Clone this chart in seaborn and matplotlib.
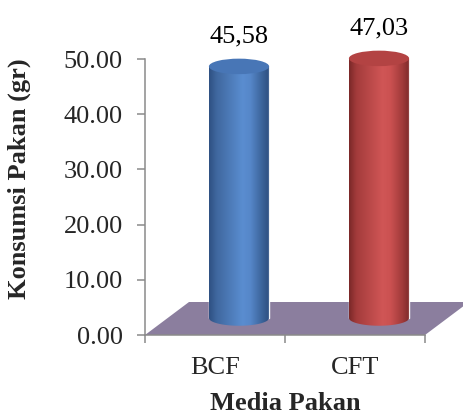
import numpy as np
import pandas as pd
import matplotlib
matplotlib.use("Agg")
import matplotlib.pyplot as plt
import matplotlib.transforms as mtransforms
from matplotlib.colors import LinearSegmentedColormap
from matplotlib.patches import Polygon, PathPatch, Ellipse
from matplotlib.path import Path
import seaborn as sns

# data
media = ["BCF", "CFT"]
konsumsi = [45.58, 47.03]
value_labels = ["45,58", "47,03"]
y_ticks = [0, 10, 20, 30, 40, 50]

# colours
base_colors = ["#4a7bbf", "#c44c4c"]
body_stops = [
    ["#2e5082", "#3f679e", "#5a8dd0", "#5687c9", "#3a6298", "#2f5284", "#7d97bb"],
    ["#7a2828", "#a33b3b", "#d05656", "#cb5151", "#a03a3a", "#842d2d", "#b07070"],
]
top_colors = ["#4876b6", "#b34343"]
floor_color = "#8b7e9e"
axis_grey = "#8a8a8a"

sns.set_theme(style="white")
plt.rcParams["font.family"] = ["Liberation Serif", "DejaVu Serif"]
FS = 19

df = pd.DataFrame({"media": media, "konsumsi": konsumsi})

fig = plt.figure(figsize=(4.64, 4.16), dpi=100)
W, H = 464, 416
ax = fig.add_axes([145 / W, (H - 335) / H, 280 / W, 276 / H])

bar_w = 0.43
sns.barplot(data=df, x="media", y="konsumsi", hue="media", palette=base_colors,
            width=bar_w, legend=False, ax=ax, zorder=3)

ax.set_xlim(-0.5, 1.5)
ax.set_ylim(0, 50)

# pixel -> data conversions (axes has a fixed size)
px_x = 2.0 / 280      # data units per pixel, x
px_y = 50.0 / 276     # data units per pixel, y

# floor of the 3-D plot area
fdx, fdy = 44 * px_x, 33 * px_y
floor = Polygon([(-0.5, 0), (1.5, 0), (1.5 + fdx, fdy), (-0.5 + fdx, fdy)],
                closed=True, facecolor=floor_color, edgecolor="none",
                zorder=1, clip_on=False)
ax.add_patch(floor)

# bars stand in the middle of the floor depth
depth = mtransforms.ScaledTranslation(24 / 100, 17 / 100, fig.dpi_scale_trans)
bar_trans = ax.transData + depth
ell_h = 15.5 * px_y

patches = [p for p in ax.patches if p is not floor]
for i, p in enumerate(patches):
    x0, w, h = p.get_x(), p.get_width(), p.get_height()
    x1, xc = x0 + w, x0 + w / 2
    p.set_transform(bar_trans)
    p.set_clip_on(False)

    # cylinder body: rectangle with a rounded bottom
    t = np.linspace(np.pi, 2 * np.pi, 40)
    bottom = [(xc + w / 2 * np.cos(a), ell_h / 2 * np.sin(a)) for a in t]
    verts = [(x0, h)] + bottom + [(x1, h), (x0, h)]
    codes = [Path.MOVETO] + [Path.LINETO] * (len(verts) - 2) + [Path.CLOSEPOLY]
    body = PathPatch(Path(verts, codes), facecolor="none", edgecolor="none",
                     transform=bar_trans, clip_on=False)
    ax.add_patch(body)
    p.set_clip_path(body)

    cmap = LinearSegmentedColormap.from_list(
        f"cyl{i}", list(zip([0, 0.12, 0.55, 0.68, 0.88, 0.97, 1.0], body_stops[i])))
    grad = np.linspace(0, 1, 256).reshape(1, -1)
    im = ax.imshow(grad, cmap=cmap, aspect="auto",
                   extent=(x0, x1, -ell_h, h), zorder=4, interpolation="bicubic")
    im.set_transform(bar_trans)
    im.set_clip_path(body)

    top = Ellipse((xc, h), w, ell_h, facecolor=top_colors[i], edgecolor="none",
                  transform=bar_trans, zorder=5, clip_on=False)
    ax.add_patch(top)

    # value label above the cylinder
    lab_trans = bar_trans + mtransforms.ScaledTranslation(0, 24 / 100, fig.dpi_scale_trans)
    ax.text(xc, h, value_labels[i], transform=lab_trans, ha="center",
            va="baseline", fontsize=FS, color="black", zorder=6, clip_on=False)

ax.set_xlim(-0.5, 1.5)
ax.set_ylim(0, 50)

# axes styling
for s in ["top", "right"]:
    ax.spines[s].set_visible(False)
for s in ["left", "bottom"]:
    ax.spines[s].set_color(axis_grey)
    ax.spines[s].set_linewidth(1.1)
    ax.spines[s].set_zorder(2)

ax.set_yticks(y_ticks)
ax.set_yticklabels([f"{v:.2f}" for v in y_ticks], fontsize=FS)
ax.tick_params(axis="y", direction="out", length=6, width=1.1, color=axis_grey,
               pad=10, left=True)
ax.set_xticks([0, 1])
ax.set_xticklabels(media, fontsize=FS)
ax.set_xticks([-0.5, 0.5, 1.5], minor=True)
ax.tick_params(axis="x", which="major", length=0, pad=16)
ax.tick_params(axis="x", which="minor", direction="out", length=6, width=1.1,
               color=axis_grey, bottom=True)

ax.set_xlabel("Media Pakan", fontsize=FS, fontweight="bold")
ax.xaxis.label.set_va("center")
ax.xaxis.set_label_coords(0.5, -0.248)
ax.set_ylabel("Konsumsi Pakan (gr)", fontsize=FS, fontweight="bold")
ax.yaxis.label.set_va("center")
ax.yaxis.set_label_coords(-0.45, 0.567)

ax.patch.set_alpha(0)
fig.savefig("out.png", dpi=100)
